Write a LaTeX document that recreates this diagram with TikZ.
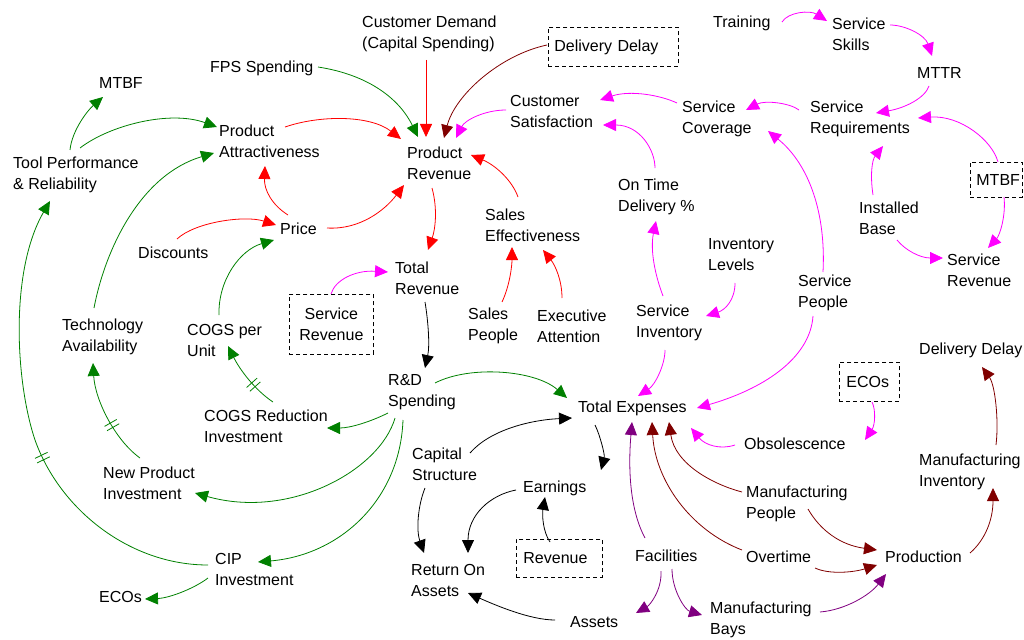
\documentclass[tikz,border=0pt]{standalone}
\usepackage{fontspec}
\setmainfont{Liberation Sans}
\usetikzlibrary{arrows.meta,calc,decorations.markings}
\definecolor{dgreen}{RGB}{0,128,0}
\definecolor{maroon}{RGB}{128,0,0}
\definecolor{dpurple}{RGB}{128,0,128}
\definecolor{mag}{RGB}{255,0,255}
\tikzset{
  lbl/.style={anchor=west, inner sep=0pt, align=left, font=\fontsize{16}{21}\selectfont},
  dbox/.style={draw, dash pattern=on 4pt off 3pt, line width=0.8pt, anchor=north west, inner ysep=0pt, font=\fontsize{16}{21}\selectfont},
  link/.style={line width=0.8pt, -{Triangle[length=13pt,width=12pt]}},
  gl/.style={link, dgreen},
  rl/.style={link, red},
  ml/.style={link, maroon},
  pl/.style={link, dpurple},
  kl/.style={link, black},
  gm/.style={link, mag},
  delay/.style={postaction={decorate,decoration={markings,mark=at position #1 with {\draw[-,solid,line width=0.8pt] (-2.5,-7)--(-2.5,7) (2.5,-7)--(2.5,7);}}}}
}
\begin{document}
\begin{tikzpicture}[x=1pt,y=-1pt]
\useasboundingbox (0,0) rectangle (1024,639);
% nodes
\node[lbl] (mtbfL) at (99,83) {MTBF};
\node[lbl] (fps) at (210,68) {FPS Spending};
\node[lbl] (cust) at (362,34) {Customer Demand\\(Capital Spending)};
\node[dbox, minimum height=39pt, inner xsep=6pt, text width=118pt, align=left] (ddbox) at (548,27) {Delivery Delay};
\node[lbl] (train) at (713,23) {Training};
\node[lbl] (skills) at (832,34) {Service\\Skills};
\node[lbl] (mttr) at (917,73) {MTTR};
\node[lbl] (svccov) at (682,119) {Service\\Coverage};
\node[lbl] (svcreq) at (810,119) {Service\\Requirements};
\node[dbox, minimum height=35pt, inner xsep=6pt, text width=40pt, align=left] (mtbfbox) at (970,162) {MTBF};
\node[lbl] (inst) at (859,218) {Installed\\Base};
\node[lbl] (svcrevR) at (947,270) {Service\\Revenue};
\node[lbl] (invlev) at (708,255) {Inventory\\Levels};
\node[lbl] (svcpeople) at (798,293) {Service\\People};
\node[lbl] (pattr) at (219,141) {Product\\Attractiveness};
\node[lbl] (tool) at (13,175) {Tool Performance\\\& Reliability};
\node[lbl] (prev) at (407,163) {Product\\Revenue};
\node[lbl] (custsat) at (510,111) {Customer\\Satisfaction};
\node[lbl] (ontime) at (618,197) {On Time\\Delivery \%};
\node[lbl] (price) at (280,229) {Price};
\node[lbl] (disc) at (138,253) {Discounts};
\node[lbl] (tech) at (62,337) {Technology\\Availability};
\node[lbl] (cogsu) at (187,340) {COGS per\\Unit};
\node[dbox, minimum height=60pt, inner xsep=6pt, text width=72pt, align=center] (svcrevbox) at (289,294) {Service\\Revenue};
\node[lbl] (cogsr) at (204,426) {COGS Reduction\\Investment};
\node[lbl] (totrev) at (395,278) {Total\\Revenue};
\node[lbl] (saleseff) at (485,225) {Sales\\Effectiveness};
\node[lbl] (salesp) at (468,326) {Sales\\People};
\node[lbl] (exec) at (537,326) {Executive\\Attention};
\node[lbl] (svcinv) at (636,323) {Service\\Inventory};
\node[lbl] (rnd) at (388,392) {R\&D\\Spending};
\node[lbl] (totexp) at (578,408) {Total Expenses};
\node[lbl] (ddR) at (919,350) {Delivery Delay};
\node[dbox, minimum height=39pt, inner xsep=7pt, text width=46pt, align=left] (ecobox) at (839,362) {ECOs};
\node[lbl] (obs) at (744,444) {Obsolescence};
\node[lbl] (mfginv) at (919,472) {Manufacturing\\Inventory};
\node[lbl] (newprod) at (103,483) {New Product\\Investment};
\node[lbl] (cip) at (215,569) {CIP\\Investment};
\node[lbl] (ecosL) at (99,597) {ECOs};
\node[lbl] (capst) at (412,464) {Capital\\Structure};
\node[lbl] (earn) at (523,488) {Earnings};
\node[dbox, minimum height=38pt, inner xsep=7pt, text width=72pt, align=left] (revbox) at (516,539) {Revenue};
\node[lbl] (roa) at (411,580) {Return On\\Assets};
\node[lbl] (fac) at (635,556) {Facilities};
\node[lbl] (assets) at (570,622) {Assets};
\node[lbl] (mfgp) at (746,504) {Manufacturing\\People};
\node[lbl] (overtime) at (746,557) {Overtime};
\node[lbl] (prod) at (885,557) {Production};
\node[lbl] (bays) at (710,620) {Manufacturing\\Bays};
% green
\draw[gl] ($(tool.west)+(57,-25)$) .. controls (72,130) and (88,110) .. ($(mtbfL.west)+(4,14)$);
\draw[gl] ($(tool.west)+(67,-27)$) .. controls (110,125) and (170,110) .. ($(pattr.west)+(-2,-14)$);
\draw[gl] ($(tech.west)+(32,-29)$) .. controls (105,250) and (140,175) .. ($(pattr.west)+(-5,12)$);
\draw[gl] ($(fps.west)+(108,-1)$) .. controls (370,75) and (400,100) .. ($(prev.west)+(11,-26)$);
\draw[gl, delay=0.44] ($(cip.west)+(-7,-4)$) .. controls (130,565) and (60,510) .. (35,440) .. controls (15,380) and (10,270) .. ($(tool.west)+(37,26)$);
\draw[gl, delay=0.4] ($(newprod.west)+(37,-25)$) .. controls (115,440) and (95,400) .. ($(tech.west)+(31,26)$);
\draw[gl, delay=0.36] ($(cogsr.west)+(69,-24)$) .. controls (255,390) and (240,370) .. ($(cogsu.west)+(41,6)$);
\draw[gl] ($(cogsu.west)+(32,-25)$) .. controls (218,280) and (240,250) .. ($(price.west)+(-6,11)$);
\draw[gl] ($(rnd.west)+(47,-9)$) .. controls (470,365) and (535,370) .. ($(totexp.west)+(-11,-10)$);
\draw[gl] ($(rnd.west)+(0,21)$) .. controls (370,422) and (350,428) .. ($(cogsr.west)+(123,2)$);
\draw[gl] ($(rnd.west)+(7,26)$) .. controls (380,470) and (290,520) .. ($(newprod.west)+(92,10)$);
\draw[gl] ($(rnd.west)+(15,28)$) .. controls (400,500) and (340,555) .. ($(cip.west)+(43,-7)$);
\draw[gl] ($(cip.west)+(-7,9)$) .. controls (195,588) and (170,598) .. ($(ecosL.west)+(46,2)$);
% red
\draw[rl] ($(pattr.west)+(66,-14)$) .. controls (320,115) and (370,115) .. ($(prev.west)+(-6,-24)$);
\draw[rl] ($(price.west)+(8,-14)$) .. controls (272,205) and (264,190) .. ($(pattr.west)+(46,25)$);
\draw[rl] ($(price.west)+(47,-1)$) .. controls (360,230) and (385,210) .. ($(prev.west)+(-3,22)$);
\draw[rl] ($(disc.west)+(39,-14)$) .. controls (195,222) and (245,215) .. ($(price.west)+(-4,-4)$);
\draw[rl] ($(cust.west)+(64,26)$) -- ($(prev.west)+(19,-26)$);
\draw[rl] ($(saleseff.west)+(33,-28)$) .. controls (512,180) and (495,165) .. ($(prev.west)+(64,-8)$);
\draw[rl] ($(prev.west)+(25,25)$) .. controls (438,210) and (435,230) .. ($(totrev.west)+(33,-28)$);
\draw[rl] ($(salesp.west)+(34,-24)$) .. controls (510,285) and (512,265) .. ($(saleseff.west)+(27,22)$);
\draw[rl] ($(exec.west)+(25,-28)$) .. controls (562,280) and (555,265) .. ($(saleseff.west)+(58,25)$);
% maroon
\draw[ml] ($(ddbox.north west)+(-1,18)$) .. controls (500,55) and (455,95) .. ($(prev.west)+(37,-25)$);
\draw[ml] ($(mfgp.west)+(-4,-12)$) .. controls (715,485) and (675,465) .. ($(totexp.west)+(91,14)$);
\draw[ml] ($(overtime.west)+(-4,-7)$) .. controls (690,530) and (655,480) .. ($(totexp.west)+(74,14)$);
\draw[ml] ($(mfgp.west)+(62,5)$) .. controls (820,530) and (840,545) .. ($(prod.west)+(-8,-7)$);
\draw[ml] ($(overtime.west)+(69,11)$) .. controls (830,575) and (855,572) .. ($(prod.west)+(-8,8)$);
\draw[ml] ($(prod.west)+(85,-4)$) .. controls (985,540) and (993,520) .. ($(mfginv.west)+(74,16)$);
\draw[ml] ($(mfginv.west)+(77,-27)$) .. controls (999,420) and (995,385) .. ($(ddR.west)+(63,17)$);
% purple
\draw[pl] ($(fac.west)+(10,-18)$) .. controls (630,510) and (628,470) .. ($(totexp.west)+(54,14)$);
\draw[pl] ($(fac.west)+(26,15)$) .. controls (662,590) and (650,605) .. ($(assets.west)+(66,-9)$);
\draw[pl] ($(fac.west)+(37,13)$) .. controls (672,590) and (685,610) .. ($(bays.west)+(-8,-5)$);
\draw[pl] ($(bays.west)+(110,-8)$) .. controls (845,610) and (870,595) .. ($(prod.west)+(1,17)$);
% black
\draw[kl] ($(totrev.west)+(30,24)$) .. controls (428,320) and (430,345) .. ($(rnd.west)+(37,-24)$);
\draw[kl] ($(capst.west)+(58,-11)$) .. controls (490,430) and (530,420) .. ($(totexp.west)+(-6,10)$);
\draw[kl] ($(totexp.west)+(17,17)$) .. controls (600,435) and (605,455) .. ($(earn.west)+(78,-18)$);
\draw[kl] ($(capst.west)+(13,24)$) .. controls (418,505) and (416,530) .. ($(roa.west)+(13,-27)$);
\draw[kl] ($(earn.west)+(-7,2)$) .. controls (490,495) and (468,515) .. ($(roa.west)+(57,-27)$);
\draw[kl] ($(revbox.north west)+(34,3)$) .. controls (543,532) and (542,515) .. ($(earn.west)+(22,9)$);
\draw[kl] ($(assets.west)+(-15,-2)$) .. controls (530,620) and (495,605) .. ($(roa.west)+(57,13)$);
% magenta
\draw[gm] ($(train.west)+(69,-1)$) .. controls (788,12) and (810,10) .. ($(skills.west)+(-5,-13)$);
\draw[gm] ($(skills.west)+(58,-9)$) .. controls (905,25) and (925,35) .. ($(mttr.west)+(15,-17)$);
\draw[gm] ($(mttr.west)+(12,13)$) .. controls (925,98) and (905,108) .. ($(svcreq.west)+(66,-6)$);
\draw[gm] ($(svcreq.west)+(-11,-9)$) .. controls (790,103) and (765,100) .. ($(svccov.west)+(64,-9)$);
\draw[gm] ($(inst.west)+(14,-23)$) .. controls (870,175) and (872,160) .. ($(svcreq.west)+(73,27)$);
\draw[gm] ($(mtbfbox.north west)+(28,0)$) .. controls (992,140) and (960,115) .. ($(svcreq.west)+(108,-1)$);
\draw[gm] ($(mtbfbox.north west)+(34,35)$) .. controls (1006,215) and (1000,235) .. ($(svcrevR.west)+(41,-22)$);
\draw[gm] ($(inst.west)+(38,22)$) .. controls (905,250) and (920,258) .. ($(svcrevR.west)+(-4,-12)$);
\draw[gm] ($(svccov.west)+(-5,-16)$) .. controls (660,95) and (630,90) .. ($(custsat.west)+(90,-11)$);
\draw[gm] ($(ontime.west)+(37,-29)$) .. controls (655,150) and (640,125) .. ($(custsat.west)+(93,14)$);
\draw[gm] ($(custsat.west)+(-4,-1)$) .. controls (485,110) and (465,120) .. ($(prev.west)+(49,-25)$);
\draw[gm] ($(svcinv.west)+(27,-27)$) .. controls (655,275) and (650,250) .. ($(ontime.west)+(38,24)$);
\draw[gm] ($(invlev.west)+(27,28)$) .. controls (735,300) and (725,310) .. ($(svcinv.west)+(70,-7)$);
\draw[gm] ($(svcinv.west)+(29,27)$) .. controls (665,365) and (655,385) .. ($(totexp.west)+(60,-12)$);
\draw[gm] ($(svcpeople.west)+(25,-21)$) .. controls (826,215) and (810,165) .. ($(svccov.west)+(86,12)$);
\draw[gm] ($(svcpeople.west)+(15,23)$) .. controls (810,360) and (760,390) .. ($(totexp.west)+(119,0)$);
\draw[gm] ($(ecobox.north west)+(33,40)$) .. controls (876,410) and (875,425) .. ($(obs.west)+(121,-4)$);
\draw[gm] ($(obs.west)+(-9,1)$) .. controls (720,450) and (705,445) .. ($(totexp.west)+(113,20)$);
\draw[gm] ($(svcrevbox.north west)+(42,0)$) .. controls (335,280) and (355,270) .. ($(totrev.west)+(-7,-6)$);
\end{tikzpicture}
\end{document}
